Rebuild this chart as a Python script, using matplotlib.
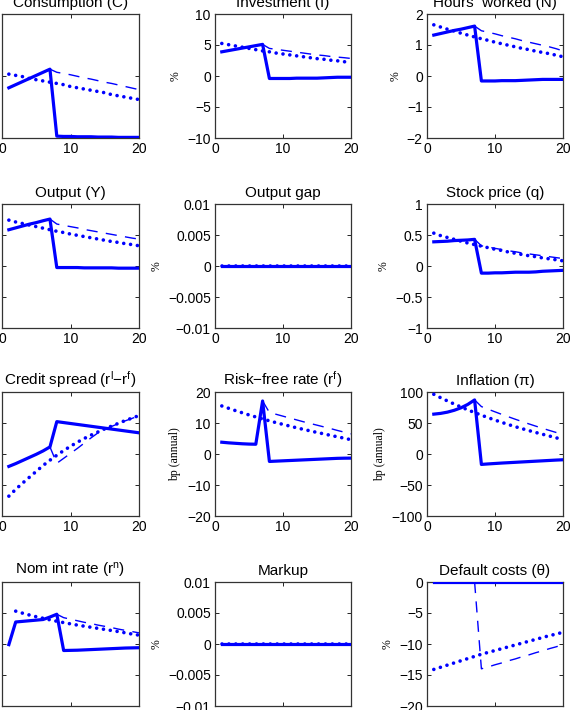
import numpy as np
from matplotlib import pyplot as plt

plt.rcParams['font.family'] = ['Liberation Sans', 'DejaVu Sans']
plt.rcParams['mathtext.default'] = 'regular'

x  = np.arange(1, 21)
xd = np.arange(7, 21)      # dashed line starts at the peak period

# ---- responses: solid, dotted, dashed ----
cons_s  = [-0.19, -0.14, -0.09, -0.04, 0.01, 0.06, 0.11, -0.97, -0.975, -0.975, -0.98, -0.98, -0.98, -0.985, -0.985, -0.985, -0.99, -0.99, -0.99, -0.99]
cons_o  = [0.03, 0.01, -0.01, -0.04, -0.06, -0.08, -0.10, -0.12, -0.14, -0.17, -0.19, -0.21, -0.23, -0.25, -0.27, -0.30, -0.32, -0.34, -0.36, -0.38]
cons_d  = [0.11, 0.06, 0.04, 0.02, -0.005, -0.03, -0.05, -0.075, -0.10, -0.12, -0.145, -0.17, -0.195, -0.22]

inv_s   = [3.9, 4.1, 4.3, 4.5, 4.7, 4.9, 5.1, -0.4, -0.4, -0.4, -0.4, -0.35, -0.35, -0.35, -0.35, -0.3, -0.25, -0.2, -0.2, -0.2]
inv_o   = [5.25, 5.05, 4.85, 4.65, 4.45, 4.25, 4.05, 3.9, 3.7, 3.55, 3.4, 3.25, 3.1, 2.95, 2.8, 2.7, 2.55, 2.45, 2.3, 2.2]
inv_d   = [5.1, 4.45, 4.3, 4.15, 4.0, 3.85, 3.7, 3.55, 3.4, 3.3, 3.15, 3.05, 2.95, 2.83]

hrs_s   = [1.32, 1.37, 1.42, 1.47, 1.51, 1.56, 1.61, -0.16, -0.16, -0.16, -0.15, -0.15, -0.15, -0.14, -0.13, -0.12, -0.11, -0.11, -0.11, -0.11]
hrs_o   = [1.65, 1.58, 1.51, 1.45, 1.38, 1.32, 1.26, 1.2, 1.15, 1.09, 1.04, 0.99, 0.94, 0.89, 0.85, 0.8, 0.76, 0.72, 0.67, 0.62]
hrs_d   = [1.61, 1.46, 1.41, 1.36, 1.3, 1.25, 1.2, 1.14, 1.09, 1.04, 0.99, 0.94, 0.88, 0.81]

out_s   = [0.585, 0.615, 0.645, 0.675, 0.7, 0.73, 0.757, -0.025, -0.025, -0.025, -0.025, -0.03, -0.03, -0.03, -0.03, -0.03, -0.035, -0.035, -0.035, -0.035]
out_o   = [0.74, 0.71, 0.685, 0.66, 0.635, 0.61, 0.585, 0.56, 0.54, 0.515, 0.495, 0.475, 0.455, 0.435, 0.415, 0.395, 0.38, 0.36, 0.345, 0.326]
out_d   = [0.757, 0.677, 0.655, 0.635, 0.615, 0.59, 0.57, 0.55, 0.53, 0.51, 0.49, 0.47, 0.45, 0.434]

zero20  = [0.0]*20
zero14  = [0.0]*14

stk_s   = [0.39, 0.395, 0.4, 0.41, 0.415, 0.42, 0.43, -0.115, -0.115, -0.11, -0.11, -0.105, -0.10, -0.10, -0.10, -0.095, -0.085, -0.08, -0.075, -0.07]
stk_o   = [0.53, 0.49, 0.46, 0.43, 0.4, 0.37, 0.345, 0.32, 0.295, 0.27, 0.25, 0.225, 0.205, 0.185, 0.165, 0.15, 0.13, 0.115, 0.1, 0.083]
stk_d   = [0.43, 0.326, 0.305, 0.285, 0.265, 0.245, 0.23, 0.21, 0.195, 0.18, 0.165, 0.15, 0.135, 0.12]

spr_s   = [-2.0, -1.55, -1.05, -0.55, -0.05, 0.5, 1.14, 5.22, 5.07, 4.92, 4.77, 4.62, 4.47, 4.32, 4.17, 4.02, 3.87, 3.72, 3.57, 3.42]
spr_o   = [-6.8, -5.7, -4.7, -3.75, -2.8, -1.85, -1.0, -0.2, 0.55, 1.25, 1.9, 2.5, 3.05, 3.55, 4.05, 4.5, 4.95, 5.4, 5.8, 6.2]
spr_d   = [1.14, -1.5, -0.7, 0.1, 0.9, 1.75, 2.6, 3.4, 4.0, 4.45, 4.9, 5.35, 5.75, 6.15]

rf_s    = [3.8, 3.6, 3.45, 3.3, 3.2, 3.15, 17.1, -2.4, -2.3, -2.2, -2.1, -2.0, -1.9, -1.8, -1.7, -1.6, -1.5, -1.4, -1.35, -1.33]
rf_o    = [15.5, 14.75, 14.0, 13.3, 12.6, 11.95, 11.3, 10.7, 10.1, 9.55, 9.0, 8.45, 7.95, 7.45, 6.95, 6.5, 6.0, 5.55, 5.1, 4.6]
rf_d    = [17.1, 13.4, 12.8, 12.2, 11.6, 11.0, 10.4, 9.85, 9.3, 8.75, 8.2, 7.6, 7.05, 6.5]

pi_s    = [64.3, 65.5, 67.5, 70.5, 74.5, 80.0, 87.2, -16.8, -16.0, -15.3, -14.6, -14.0, -13.4, -12.8, -12.2, -11.6, -11.0, -10.4, -9.8, -9.3]
pi_o    = [96.3, 90.8, 85.6, 80.6, 75.8, 71.2, 66.8, 62.6, 58.6, 54.7, 51.0, 47.4, 44.0, 40.8, 37.7, 34.7, 31.8, 29.0, 26.1, 23.2]
pi_d    = [87.2, 76.5, 72.2, 68.0, 63.9, 59.9, 56.0, 52.2, 48.5, 44.9, 41.4, 38.0, 34.7, 31.5]

# nominal rate: dotted starts in period 2, dashed at the period-8 peak
xn_o    = np.arange(2, 21)
xn_d    = np.arange(8, 21)
nom_s   = [-0.2, 7.1, 7.3, 7.5, 7.7, 7.9, 8.7, 9.6, -2.1, -2.05, -2.0, -1.9, -1.8, -1.7, -1.6, -1.5, -1.4, -1.3, -1.25, -1.2]
nom_o   = [10.6, 9.95, 9.35, 8.8, 8.3, 7.8, 7.35, 6.9, 6.5, 6.1, 5.75, 5.4, 5.05, 4.7, 4.35, 4.0, 3.6, 3.2, 2.85]
nom_d   = [9.6, 8.5, 8.0, 7.5, 7.0, 6.6, 6.1, 5.7, 5.3, 4.8, 4.4, 4.0, 3.6]

dc_o    = [-14.1, -13.75, -13.4, -13.05, -12.7, -12.35, -12.0, -11.65, -11.35, -11.05, -10.75, -10.45, -10.15, -9.85, -9.55, -9.25, -8.95, -8.65, -8.4, -8.1]
dc_d    = [0.0, -14.0, -13.7, -13.35, -13.05, -12.7, -12.4, -12.05, -11.75, -11.4, -11.1, -10.75, -10.45, -10.1]

titles  = ['Consumption (C)', 'Investment (I)', 'Hours  worked (N)',
           'Output (Y)', 'Output gap', 'Stock price (q)',
           'Credit spread (r$^{l}$\u2212r$^{f}$)', 'Risk\u2212free rate (r$^{f}$)', 'Inflation (\u03c0)',
           'Nom int rate (r$^{n}$)', 'Markup', 'Default costs (\u03b8)']
ylabels = ['%', '%', '%', '%', '%', '%', 'bp (annual)', 'bp (annual)', 'bp (annual)', 'bp (annual)', '%', '%']
ylims   = [(-1, 1), (-10, 10), (-2, 2), (-1, 1), (-0.01, 0.01), (-1, 1),
           (-10, 10), (-20, 20), (-100, 100), (-20, 20), (-0.01, 0.01), (-20, 0)]
yticks  = [[-1, 0, 1], [-10, -5, 0, 5, 10], [-2, -1, 0, 1, 2],
           [-1, -0.5, 0, 0.5, 1], [-0.01, -0.005, 0, 0.005, 0.01], [-1, -0.5, 0, 0.5, 1],
           [-10, -5, 0, 5, 10], [-20, -10, 0, 10, 20], [-100, -50, 0, 50, 100],
           [-20, -10, 0, 10, 20], [-0.01, -0.005, 0, 0.005, 0.01], [-20, -15, -10, -5, 0]]

series  = [(x, cons_s, x, cons_o, xd, cons_d), (x, inv_s, x, inv_o, xd, inv_d), (x, hrs_s, x, hrs_o, xd, hrs_d),
           (x, out_s, x, out_o, xd, out_d), (x, zero20, x, zero20, xd, zero14), (x, stk_s, x, stk_o, xd, stk_d),
           (x, spr_s, x, spr_o, xd, spr_d), (x, rf_s, x, rf_o, xd, rf_d), (x, pi_s, x, pi_o, xd, pi_d),
           (x, nom_s, xn_o, nom_o, xn_d, nom_d), (x, zero20, x, zero20, xd, zero14), (x, zero20, x, dc_o, xd, dc_d)]


W, H   = 570., 710.
lefts  = [2, 215, 427]
widths = [137, 136, 136]
tops   = [14, 204, 392, 582]
ah     = 124

fig = plt.figure(figsize=(W/100, H/100), dpi=100)
for i,(ttl,yl,lim,yt,(xs,ys,xo,yo,xdd,ydd)) in enumerate(zip(titles, ylabels, ylims, yticks, series)):
    r, c = divmod(i, 3)
    ax = fig.add_axes([lefts[c]/W, 1-(tops[r]+ah)/H, widths[c]/W, ah/H])
    ax.plot(xs, ys, '-', color='b', lw=2.3, zorder=3)
    ax.plot(xdd, ydd, color='b', lw=1.0, dashes=(8, 6), zorder=2)
    ax.plot(xo, yo, color='b', lw=2.6, linestyle=(0, (0.01, 1.9)), dash_capstyle='round', zorder=4)
    ax.set_xlim(0, 20)
    ax.set_xticks([0, 10, 20])
    ax.set_ylim(*lim)
    ax.set_yticks(yt)
    ax.set_yticklabels([f'{v:g}' .replace('-', '\u2212') for v in yt])
    ax.tick_params(direction='in', length=3, width=0.6, labelsize=10, top=True, right=True, pad=3)
    for s in ax.spines.values():
        s.set_linewidth(0.9)
        s.set_color('0.2')
    ax.set_title(ttl, fontsize=11, pad=5)
    ax.set_ylabel(yl, family=['Liberation Serif', 'DejaVu Serif'], fontsize=8.5, labelpad=4)

plt.savefig('out.png', dpi=100)
